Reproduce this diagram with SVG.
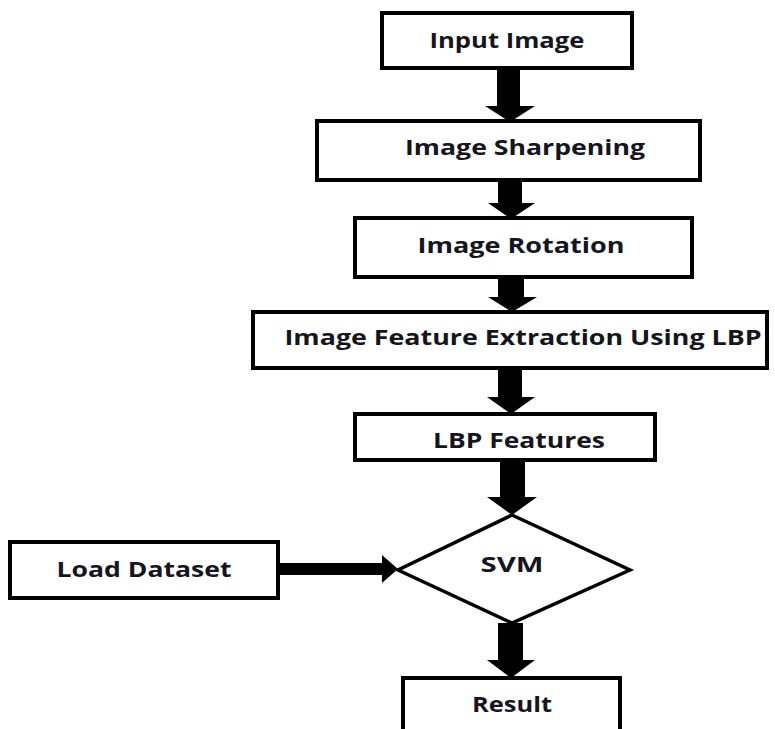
<svg xmlns="http://www.w3.org/2000/svg" width="775" height="729" viewBox="0 0 775 729">
<style>
.box{fill:#fff;stroke:#000;stroke-width:4}
.dia{fill:#fff;stroke:#000;stroke-width:3.5;stroke-linejoin:miter}
.lbl{font-family:"Open Sans","DejaVu Sans",sans-serif;font-weight:bold;font-size:22px;fill:#151520;text-anchor:middle}
.arr{fill:#000}
</style>
<rect width="775" height="729" fill="#fff"/>
<g id="input"><rect class="box" x="382" y="13" width="250" height="55"/><text class="lbl" x="507" y="48" textLength="155" lengthAdjust="spacingAndGlyphs">Input Image</text></g>
<g id="sharpen"><rect class="box" x="317" y="121" width="383" height="59"/><text class="lbl" x="525" y="155" textLength="240" lengthAdjust="spacingAndGlyphs">Image Sharpening</text></g>
<g id="rotation"><rect class="box" x="355" y="218" width="337" height="59"/><text class="lbl" x="521" y="253" textLength="207" lengthAdjust="spacingAndGlyphs">Image Rotation</text></g>
<g id="extraction"><rect class="box" x="253" y="312" width="514" height="56"/><text class="lbl" x="523" y="345" textLength="477" lengthAdjust="spacingAndGlyphs">Image Feature Extraction Using LBP</text></g>
<g id="lbp"><rect class="box" x="355" y="414" width="300" height="46"/><text class="lbl" x="519" y="448" textLength="172" lengthAdjust="spacingAndGlyphs">LBP Features</text></g>
<g id="svm"><polygon class="dia" points="512,515 630,570 512,623 398,570"/><text class="lbl" x="512" y="572" textLength="63" lengthAdjust="spacingAndGlyphs">SVM</text></g>
<g id="load"><rect class="box" x="10" y="542" width="268" height="56"/><text class="lbl" x="144" y="577" textLength="175" lengthAdjust="spacingAndGlyphs">Load Dataset</text></g>
<g id="result"><rect class="box" x="403" y="678" width="217" height="60"/><text class="lbl" x="512" y="712" textLength="80" lengthAdjust="spacingAndGlyphs">Result</text></g>
<g id="connectors">
<polygon class="arr" points="497,68 520,68 520,106 535,106 510,122 485,106 497,106"/>
<polygon class="arr" points="498,180 522,180 522,203 535,203 511,219 488,203 498,203"/>
<polygon class="arr" points="498,277 524,277 524,297 537,297 512,312 488,297 498,297"/>
<polygon class="arr" points="498,368 522,368 522,397 535,397 511,414 487,397 498,397"/>
<polygon class="arr" points="500,460 525,460 525,497 537,497 512,515 487,497 500,497"/>
<polygon class="arr" points="498,623 523,623 523,660 535,660 511,678 487,660 498,660"/>
<polygon class="arr" points="278,563 382,563 382,555 398,569 382,583 382,575 278,575"/>
</g>
</svg>
